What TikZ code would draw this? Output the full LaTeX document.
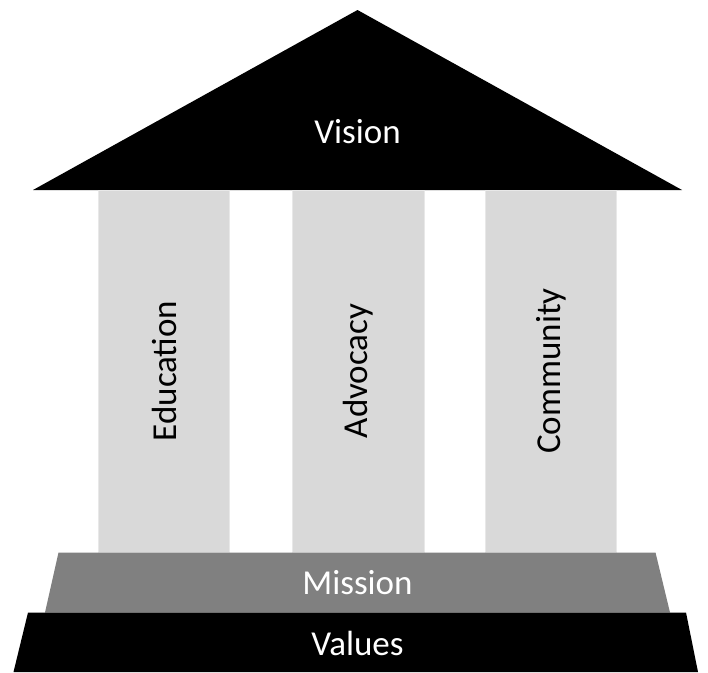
\documentclass[tikz,border=0pt]{standalone}
\usepackage{fontspec}
\setmainfont{Carlito}
\definecolor{pillargray}{HTML}{D9D9D9}
\definecolor{pillaredge}{HTML}{E8E8E8}
\definecolor{missiongray}{HTML}{808080}
\begin{document}
\begin{tikzpicture}[x=1pt,y=1pt]
\tikzstyle{every node}+=[inner sep=0pt]
\tikzstyle{label white}=[text=white,font=\fontsize{35}{42}\selectfont]
\tikzstyle{label pillar}=[text=black,rotate=90,font=\fontsize{35}{42}\selectfont]
\useasboundingbox (0,0) rectangle (708,-672);
% roof
\fill [black] (33,-190) -- (357.5,-10) -- (682,-190) -- cycle;
\draw (357.5,-132) node [label white] (vision) {Vision};
% pillars
\fill [pillargray, draw=pillaredge, line width=1pt] (98.5,-190) rectangle (229.5,-552);
\draw (164,-371) node [label pillar] (education) {Education};
\fill [pillargray, draw=pillaredge, line width=1pt] (292.5,-190) rectangle (424,-552);
\draw (358,-371) node [label pillar] (advocacy) {Advocacy};
\fill [pillargray, draw=pillaredge, line width=1pt] (485.5,-190) rectangle (616.5,-552);
\draw (551,-371) node [label pillar] (community) {Community};
% steps
\fill [missiongray] (58.5,-552.5) -- (655.5,-552.5) -- (670,-612.5) -- (45,-612.5) -- cycle;
\draw (357.5,-583) node [label white] (mission) {Mission};
\fill [black] (28,-612.5) -- (686,-612.5) -- (698,-672) -- (13.5,-672) -- cycle;
\draw (357.5,-643) node [label white] (values) {Values};
\end{tikzpicture}
\end{document}
